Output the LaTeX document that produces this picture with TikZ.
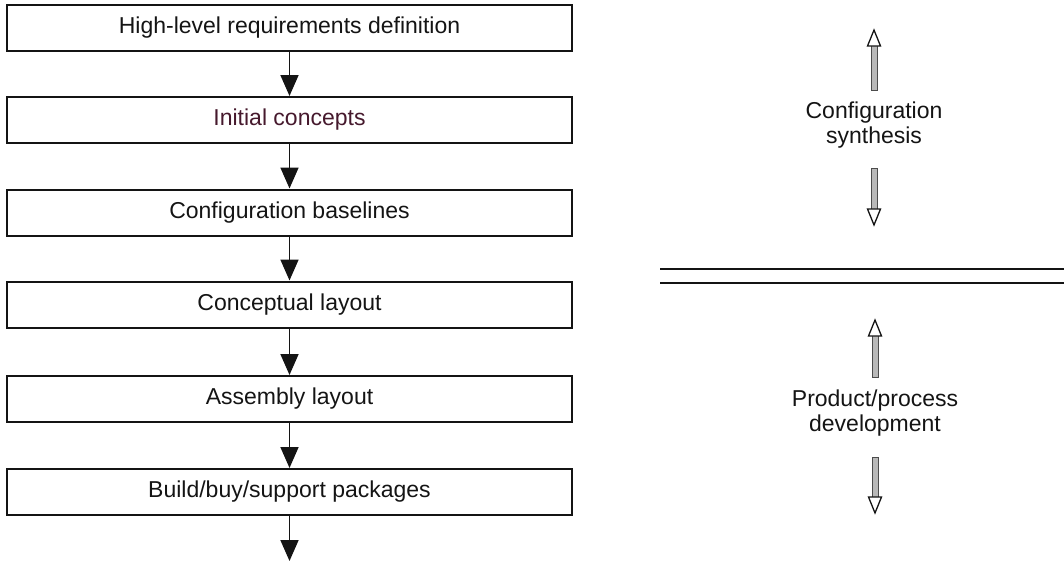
\documentclass[tikz,border=0pt]{standalone}
\usepackage{fontspec}
\setmainfont{Liberation Sans}
\usetikzlibrary{arrows.meta}
\definecolor{inkc}{RGB}{20,20,20}
\definecolor{initc}{RGB}{70,25,45}
\tikzset{
  stepbox/.style={draw=inkc, line width=2pt, minimum width=565pt, minimum height=46pt,
    inner sep=0pt, font=\fontsize{23}{25}\selectfont, text=inkc},
  flow/.style={draw=inkc, line width=1.7pt, -{Triangle[length=21pt,width=18pt]}},
  sidetext/.style={align=center, font=\fontsize{23}{25}\selectfont, text=inkc},
  shaft/.style={draw=gray!60!black, fill=gray!55, line width=0.9pt},
  head/.style={draw=inkc, fill=white, line width=1.3pt, line join=miter},
  sep/.style={draw=inkc, line width=2.2pt}
}
\begin{document}
\begin{tikzpicture}[x=1pt,y=-1pt]
\useasboundingbox (0,0) rectangle (1064,563);
% boxes
\node[stepbox] (b1) at (289.5,27.5) {High-level requirements definition};
\node[stepbox, text=initc] (b2) at (289.5,120) {Initial concepts};
\node[stepbox] (b3) at (289.5,212.5) {Configuration baselines};
\node[stepbox] (b4) at (289.5,304.5) {Conceptual layout};
\node[stepbox] (b5) at (289.5,399) {Assembly layout};
\node[stepbox] (b6) at (289.5,492) {Build/buy/support packages};
\coordinate (bend) at (289.5,561);
% flow arrows
\draw[flow] (b1) -- (b2);
\draw[flow] (b2) -- (b3);
\draw[flow] (b3) -- (b4);
\draw[flow] (b4) -- (b5);
\draw[flow] (b5) -- (b6);
\draw[flow] (b6) -- (bend);
% right side texts
\node[sidetext] (cs) at (874,125) {Configuration\\synthesis};
\node[sidetext] (pp) at (875,413) {Product/process\\development};
% hollow arrows: config synthesis
\path[shaft] (871,90) rectangle (877,45);
\path[head] (874,30) -- (867.5,46) -- (880.5,46) -- cycle;
\path[shaft] (871,168) rectangle (877,210);
\path[head] (874,225) -- (867.5,209) -- (880.5,209) -- cycle;
% hollow arrows: product/process
\path[shaft] (872,377) rectangle (878,335);
\path[head] (875,320) -- (868.5,336) -- (881.5,336) -- cycle;
\path[shaft] (872,457) rectangle (878,498);
\path[head] (875,513) -- (868.5,497) -- (881.5,497) -- cycle;
% separator double line
\coordinate (s1a) at (660,269); \coordinate (s1b) at (1064,269);
\coordinate (s2a) at (660,283); \coordinate (s2b) at (1064,283);
\draw[sep] (s1a) -- (s1b);
\draw[sep] (s2a) -- (s2b);
\end{tikzpicture}
\end{document}
